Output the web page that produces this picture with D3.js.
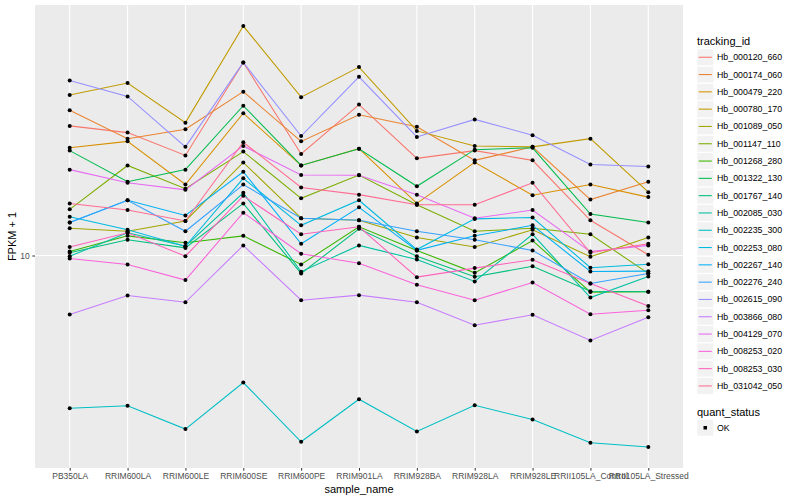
<!DOCTYPE html>
<html><head><meta charset="utf-8">
<script src="https://cdn.jsdelivr.net/npm/d3@7"></script>
<style>body{margin:0;background:#fff} text{font-family:"Liberation Sans",Arial,sans-serif}</style>
</head><body><svg id="c" width="800" height="500"></svg>
<script>
const sampleNames = ["PB350LA","RRIM600LA","RRIM600LE","RRIM600SE","RRIM600PE","RRIM901LA","RRIM928BA","RRIM928LA","RRIM928LE","RRII105LA_Control","RRII105LA_Stressed"];
const trackingIds = ["Hb_000120_660","Hb_000174_060","Hb_000479_220","Hb_000780_170","Hb_001089_050","Hb_001147_110","Hb_001268_280","Hb_001322_130","Hb_001767_140","Hb_002085_030","Hb_002235_300","Hb_002253_080","Hb_002267_140","Hb_002276_240","Hb_002615_090","Hb_003866_080","Hb_004129_070","Hb_008253_020","Hb_008253_030","Hb_031042_050"];
const palette = ["#F8766D","#EA8331","#D89000","#C09B00","#A3A500","#7CAE00","#39B600","#00BB4E","#00BF7D","#00C1A3","#00BFC4","#00BAE0","#00B0F6","#35A2FF","#9590FF","#C77CFF","#E76BF3","#FA62DB","#FF62BC","#FF6C91"];
const quantStatus = ["OK"];

// FPKM + 1 per sample (order of sampleNames)
const hb_000120_660 = [21.1,20.3,17.8,30.4,17.95,23.85,17.5,18.3,17.3,12.25,10.04];
const hb_000174_060 = [23.1,19.6,20.7,25.7,19.3,22.5,21.0,17.3,18.7,13.8,15.3];
const hb_000479_220 = [18.6,19.3,15.05,22.7,16.8,18.5,13.5,17.1,14.15,15.05,14.0];
const hb_000780_170 = [25.2,27.0,21.5,37.5,24.9,29.6,20.5,18.8,18.7,19.6,14.4];
const hb_001089_050 = [11.7,11.5,12.2,17.1,12.4,12.25,11.1,10.5,11.6,9.93,11.1];
const hb_001147_110 = [13.05,16.8,14.7,18.2,13.9,15.9,13.4,11.5,11.7,11.3,9.02];
const hb_001268_280 = [10.23,11.2,10.76,11.2,9.5,11.8,10.3,9.05,10.9,8.1,8.12];
const hb_001322_130 = [18.3,15.3,16.4,23.7,16.8,18.5,14.9,18.4,18.6,12.7,12.1];
const hb_001767_140 = [10.16,10.95,10.45,13.5,9.02,11.66,9.96,8.85,9.4,8.14,8.12];
const hb_002085_030 = [9.96,11.4,10.55,14.35,9.11,10.6,9.77,8.61,11.3,7.85,8.86];
const hb_002235_300 = [4.15,4.21,3.68,4.81,3.42,4.37,3.63,4.22,3.89,3.40,3.32];
const hb_002253_080 = [12.5,11.6,10.55,15.6,11.9,13.75,10.35,12.35,12.45,9.32,9.51];
const hb_002267_140 = [12.1,13.75,12.6,16.2,10.7,13.2,10.3,11.2,11.9,9.12,9.14];
const hb_002276_240 = [12.1,13.75,11.5,15.05,12.4,12.25,11.5,10.95,10.3,8.51,9.02];
const hb_002615_090 = [27.4,25.0,18.7,30.4,19.9,28.0,19.8,21.9,20.0,16.9,16.7];
const hb_003866_080 = [7.12,7.94,7.64,10.6,7.73,7.96,7.64,6.69,7.11,6.13,7.01];
const hb_004129_070 = [16.4,15.2,14.6,18.8,15.9,15.87,14.2,12.4,13.0,10.23,10.6];
const hb_008253_020 = [9.83,9.5,8.68,12.8,10.1,9.57,8.45,7.73,8.56,7.13,7.3];
const hb_008253_030 = [10.5,11.4,9.96,14.1,11.3,11.8,8.83,9.3,9.76,8.51,7.48];
const hb_031042_050 = [13.5,13.0,12.2,19.2,14.8,14.2,13.4,13.4,15.2,10.16,10.7];

const seriesValues = [hb_000120_660,hb_000174_060,hb_000479_220,hb_000780_170,hb_001089_050,hb_001147_110,hb_001268_280,hb_001322_130,hb_001767_140,hb_002085_030,hb_002235_300,hb_002253_080,hb_002267_140,hb_002276_240,hb_002615_090,hb_003866_080,hb_004129_070,hb_008253_020,hb_008253_030,hb_031042_050];
const series = trackingIds.map((id,i)=>({id, color:palette[i], values: seriesValues[i].map((v,j)=>({sample:sampleNames[j], v}))}));

const svg = d3.select("#c");
const P = {l:35, r:683, t:5, b:468};
const x = d3.scalePoint().domain(sampleNames).range([P.l,P.r]).padding(0.6);
const all = seriesValues.flat();
const lmin = Math.log10(d3.min(all)), lmax = Math.log10(d3.max(all)), lr = lmax-lmin;
const y = d3.scaleLog().domain([10**(lmin-0.05*lr), 10**(lmax+0.05*lr)]).range([P.b,P.t]);

svg.append("rect").attr("x",P.l).attr("y",P.t).attr("width",P.r-P.l).attr("height",P.b-P.t).attr("fill","#EBEBEB");
const yTicks = [10];
svg.append("g").selectAll("line").data(yTicks).join("line")
  .attr("x1",P.l).attr("x2",P.r).attr("y1",d=>y(d)).attr("y2",d=>y(d)).attr("stroke","#fff").attr("stroke-width",1.1);
svg.append("g").selectAll("line").data(sampleNames).join("line")
  .attr("x1",d=>x(d)).attr("x2",d=>x(d)).attr("y1",P.t).attr("y2",P.b).attr("stroke","#fff").attr("stroke-width",1.1);

const line = d3.line().x(d=>x(d.sample)).y(d=>y(d.v));
svg.append("g").selectAll("path").data(series).join("path")
  .attr("d",d=>line(d.values)).attr("fill","none").attr("stroke",d=>d.color).attr("stroke-width",1.07);
svg.append("g").selectAll("circle").data(series.flatMap(s=>s.values)).join("circle")
  .attr("cx",d=>x(d.sample)).attr("cy",d=>y(d.v)).attr("r",2).attr("fill","#000");

// axes
const xAxis = d3.axisBottom(x).tickSize(2.7).tickPadding(2.5);
const gx = svg.append("g").attr("transform",`translate(0,${P.b})`).call(xAxis);
gx.select(".domain").remove();
gx.selectAll("line").attr("stroke","#333");
gx.selectAll("text").attr("fill","#4D4D4D").style("font-size","8.5px");
const yAxis = d3.axisLeft(y).tickValues(yTicks).tickFormat(d3.format("d")).tickSize(2.7).tickPadding(2.5);
const gy = svg.append("g").attr("transform",`translate(${P.l},0)`).call(yAxis);
gy.select(".domain").remove();
gy.selectAll("line").attr("stroke","#333");
gy.selectAll("text").attr("fill","#4D4D4D").style("font-size","8.5px");

svg.append("text").attr("x",(P.l+P.r)/2).attr("y",493).attr("text-anchor","middle").style("font-size","11px").attr("fill","#000").text("sample_name");
svg.append("text").attr("transform",`translate(16,${(P.t+P.b)/2}) rotate(-90)`).attr("text-anchor","middle").style("font-size","11px").attr("fill","#000").text("FPKM + 1");

// legend
const lg = svg.append("g");
lg.append("text").attr("x",697).attr("y",44.5).style("font-size","11px").text("tracking_id");
const keys = lg.selectAll("g.k").data(series).join("g").attr("class","k")
  .attr("transform",(d,i)=>`translate(697,${49 + i*17.3})`);
keys.append("rect").attr("width",16.5).attr("height",16.5).attr("fill","#F2F2F2").attr("stroke","#fff").attr("stroke-width",0.5);
keys.append("line").attr("x1",1.7).attr("x2",14.8).attr("y1",8.25).attr("y2",8.25).attr("stroke",d=>d.color).attr("stroke-width",1.07);
keys.append("text").attr("x",20).attr("y",11.3).style("font-size","8.8px").attr("fill","#000").text(d=>d.id);

lg.append("text").attr("x",697).attr("y",415.5).style("font-size","11px").text("quant_status");
const qk = lg.selectAll("g.q").data(quantStatus).join("g").attr("class","q").attr("transform",`translate(697,419.5)`);
qk.append("rect").attr("width",16.5).attr("height",16.5).attr("fill","#F2F2F2").attr("stroke","#fff").attr("stroke-width",0.5);
qk.append("rect").attr("x",6.5).attr("y",6.5).attr("width",3.5).attr("height",3.5).attr("fill","#000");
qk.append("text").attr("x",20).attr("y",11.3).style("font-size","8.8px").text(d=>d);
</script></body></html>
